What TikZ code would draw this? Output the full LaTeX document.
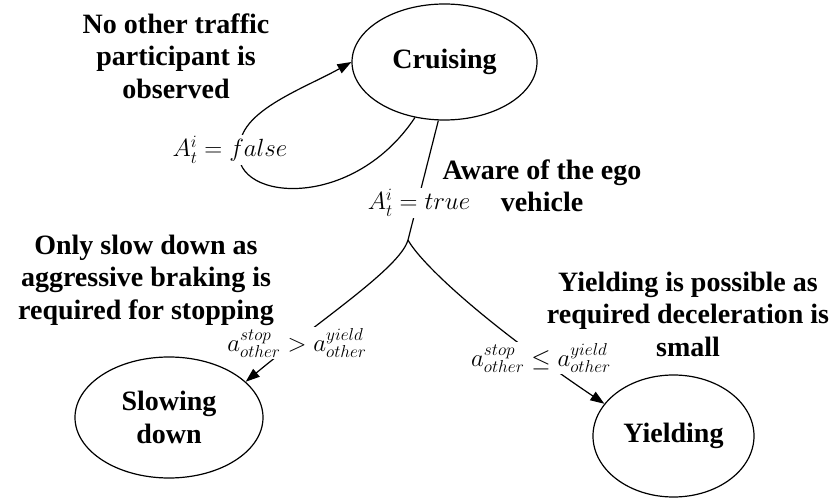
\documentclass[tikz,border=0pt]{standalone}
\usepackage{fontspec}
\setmainfont{Liberation Serif}
\usetikzlibrary{arrows.meta,shapes.geometric}
\begin{document}
\begin{tikzpicture}[x=1pt,y=-1pt,
  state/.style={ellipse,draw,line width=1.2pt,inner sep=0pt,font=\fontsize{28}{33}\selectfont\bfseries,align=center},
  note/.style={font=\fontsize{28}{32.5}\selectfont\bfseries,align=center,inner sep=0pt},
  cond/.style={font=\fontsize{23}{28}\selectfont,fill=white,inner sep=1.5pt,anchor=base},
  edge/.style={line width=1.2pt},
  arr/.style={edge,-{Triangle[length=14pt,width=10pt]}}]
\useasboundingbox (0,0) rectangle (839,502);
% states
\node[state,minimum width=185pt,minimum height=116pt] (c) at (444.5,62) {Cruising};
\node[state,minimum width=188pt,minimum height=121pt] (sd) at (169,417.5) {Slowing\\down};
\node[state,minimum width=161pt,minimum height=122pt] (yd) at (673.5,436) {Yielding};
\coordinate (br) at (408,240);
\coordinate (lp) at (240,145);
% edges
\draw[edge] (c.242) .. controls (350,215) and (225,200) .. (lp);
\draw[arr] (lp) .. controls (242,110) and (305,88) .. (c.180);
\draw[edge] (c.264) -- (br);
\draw[arr] (br) .. controls (400,268) and (320,320) .. (sd.25);
\draw[arr] (br) .. controls (420,262) and (480,320) .. (yd.155);
% condition labels
\node[cond] (lf) at (230,157) {$A_t^i = false$};
\node[cond] (lt) at (419,210) {$A_t^i = true$};
\node[cond] (lg) at (297,352) {$a^{stop}_{other} > a^{yield}_{other}$};
\node[cond] (ll) at (541,367) {$a^{stop}_{other} \le a^{yield}_{other}$};
% notes
\node[note] (n1) at (176,56) {No other traffic\\participant is\\observed};
\node[note] (n2) at (542,186) {Aware of the ego\\vehicle};
\node[note] (n3) at (146,280) {Only slow down as\\aggressive braking is\\required for stopping};
\node[note] (n4) at (688,314) {Yielding is possible as\\required deceleration is\\small};
\end{tikzpicture}
\end{document}
